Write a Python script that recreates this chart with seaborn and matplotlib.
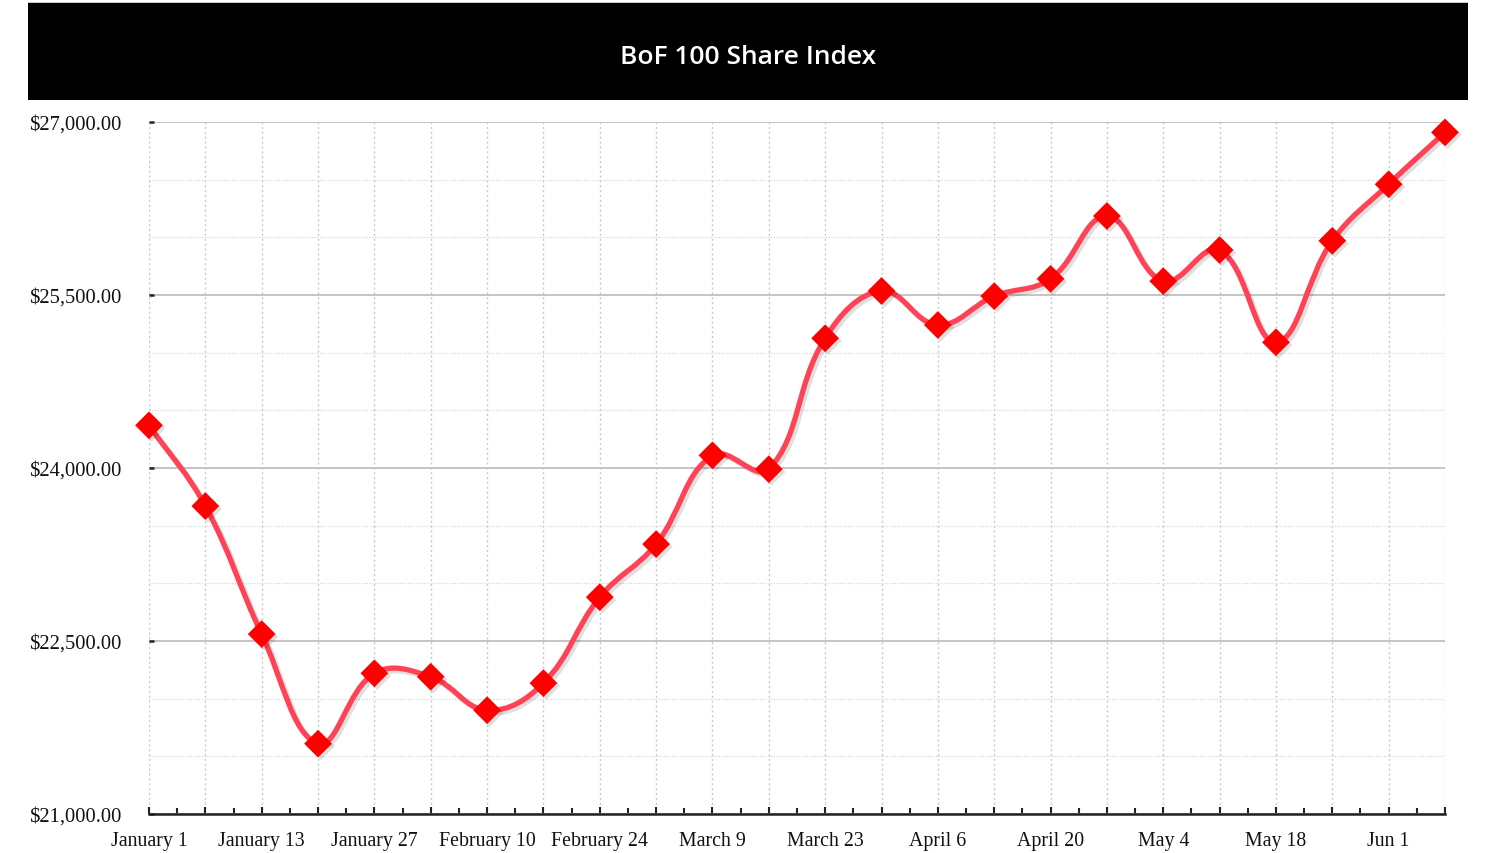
import numpy as np
import pandas as pd
import matplotlib
matplotlib.use("Agg")
import matplotlib.pyplot as plt
import matplotlib.patheffects as pe
from matplotlib.path import Path
from matplotlib.patches import PathPatch, Rectangle
from matplotlib.ticker import FuncFormatter, MultipleLocator, FixedLocator
import seaborn as sns

## chart data
weeks = ["January 1", "January 6", "January 13", "January 20", "January 27", "February 3",
         "February 10", "February 17", "February 24", "March 2", "March 9", "March 16",
         "March 23", "March 30", "April 6", "April 13", "April 20", "April 27",
         "May 4", "May 11", "May 18", "May 25", "Jun 1", "Jun 8"]
index_values = [24370, 23670, 22560, 21610, 22220, 22190, 21900, 22135,
                22880, 23340, 24110, 23990, 25125, 25535, 25240, 25490,
                25640, 26185, 25620, 25890, 25090, 25970, 26460, 26910]
title = "BoF 100 Share Index"

df = pd.DataFrame({"week": weeks, "value": index_values})
df["pos"] = np.arange(len(df))

sns.set_theme(style="white")
plt.rcParams["font.family"] = ["Liberation Serif", "DejaVu Serif"]

fig = plt.figure(figsize=(14.92, 8.54), dpi=100)
ax = fig.add_axes([149 / 1492, 1 - 815 / 854, 1296 / 1492, 692 / 854])
ax.set_xlim(0, len(df) - 1)
ax.set_ylim(21000, 27000)

## grid and axes styling
ax.yaxis.set_major_locator(MultipleLocator(1500))
ax.yaxis.set_minor_locator(MultipleLocator(500))
ax.xaxis.set_major_locator(FixedLocator(df["pos"]))
ax.xaxis.set_minor_locator(FixedLocator(df["pos"][:-1] + 0.5))
ax.yaxis.set_major_formatter(FuncFormatter(lambda v, p: "${:,.2f}".format(v)))
ax.set_xticklabels([w if i % 2 == 0 else "" for i, w in enumerate(df["week"])])

ax.grid(axis="y", which="major", color="#c4c4c4", lw=1.4, ls="-", zorder=0)
ax.grid(axis="y", which="minor", color="#d6d6d6", lw=0.9, ls=(0, (1, 1.2)), zorder=0)
ax.grid(axis="x", which="major", color="#c8c8c8", lw=1.0, ls=(0, (1.5, 2.0)), zorder=0)
for s in ["left", "top", "right"]:
    ax.spines[s].set_visible(False)
ax.spines["bottom"].set_color("#222222")
ax.spines["bottom"].set_linewidth(1.8)

ax.tick_params(axis="x", which="major", direction="in", length=5, width=1.5, bottom=True,
               color="#222222", pad=12, labelsize=14.3, labelcolor="#111111")
ax.tick_params(axis="x", which="minor", direction="in", length=4, width=1.5, bottom=True,
               color="#222222")
ax.tick_params(axis="y", which="major", direction="in", length=3.5, width=1.8,
               color="#222222", pad=20, labelsize=14.8, labelcolor="#111111", left=True)
ax.tick_params(axis="y", which="minor", left=False)
for lab in ax.get_yticklabels():
    lab.set_horizontalalignment("right")

## smooth line (chart.js style bezier, tension 0.4)
tension = 0.4
pts = ax.transData.transform(np.column_stack([df["pos"], df["value"]]))
n = len(pts)
cp_in = np.zeros_like(pts)
cp_out = np.zeros_like(pts)
for i in range(n):
    prev = pts[max(i - 1, 0)]
    cur = pts[i]
    nxt = pts[min(i + 1, n - 1)]
    d01 = np.hypot(*(cur - prev))
    d12 = np.hypot(*(nxt - cur))
    tot = d01 + d12
    s01 = d01 / tot if tot else 0
    s12 = d12 / tot if tot else 0
    cp_in[i] = cur - tension * s01 * (nxt - prev)
    cp_out[i] = cur + tension * s12 * (nxt - prev)
verts = [pts[0]]
codes = [Path.MOVETO]
for i in range(n - 1):
    verts += [cp_out[i], cp_in[i + 1], pts[i + 1]]
    codes += [Path.CURVE4] * 3
verts = ax.transData.inverted().transform(np.array(verts))
line = PathPatch(Path(verts, codes), fill=False, edgecolor="#ff4255", lw=3.8,
                 capstyle="round", joinstyle="round", zorder=3)
line.set_path_effects([pe.SimpleLineShadow(offset=(2, -2), shadow_color="#000000", alpha=0.12),
                       pe.Normal()])
ax.add_patch(line)

## markers
sns.scatterplot(data=df, x="pos", y="value", marker="D", s=200, color="#ff0000",
                edgecolor="none", linewidth=0, zorder=4, ax=ax, legend=False)
ax.collections[-1].set_path_effects([pe.SimplePatchShadow(offset=(2, -2), shadow_rgbFace="#000000",
                                                          alpha=0.12), pe.Normal()])
ax.collections[-1].set_clip_on(False)
ax.set_xlabel("")
ax.set_ylabel("")

## black title bar
fig.patches.append(Rectangle((28 / 1492, 1 - 101 / 854), 1440 / 1492, 97 / 854,
                             transform=fig.transFigure, facecolor="black", edgecolor="none"))
fig.patches.append(Rectangle((28 / 1492, 1 - 4 / 854), 1440 / 1492, 1.5 / 854,
                             transform=fig.transFigure, facecolor="#c8c8c8", edgecolor="none"))
fig.text(748 / 1492, 1 - 57 / 854, title, color="white", ha="center", va="center",
         fontsize=19, fontweight="semibold", family=["Open Sans", "DejaVu Sans"])

fig.savefig("out.png", dpi=100, facecolor="white")
